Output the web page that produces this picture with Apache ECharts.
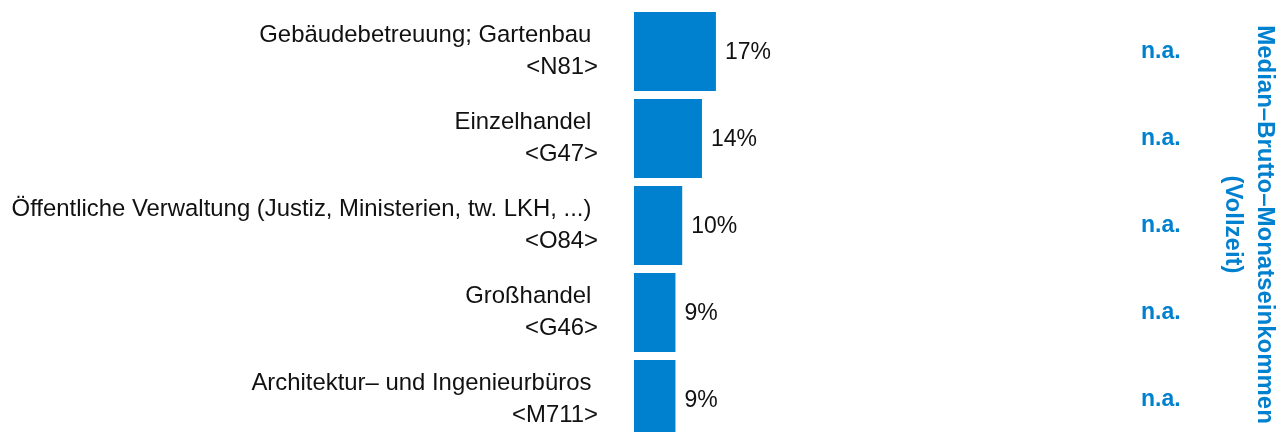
<!DOCTYPE html>
<html>
<head>
<meta charset="utf-8">
<script src="https://cdn.jsdelivr.net/npm/echarts@6/dist/echarts.min.js"></script>
<style>
html,body{margin:0;padding:0;background:#fff;}
#chart{width:1282px;height:432px;}
</style>
</head>
<body>
<div id="chart"></div>
<script>
const categoryNames = [
  'Gebäudebetreuung; Gartenbau ',
  'Einzelhandel ',
  'Öffentliche Verwaltung (Justiz, Ministerien, tw. LKH, ...) ',
  'Großhandel ',
  'Architektur– und Ingenieurbüros '
];
const categoryCodes = ['<N81>', '<G47>', '<O84>', '<G46>', '<M711>'];
const shareValues = [17.0, 14.1, 10.0, 8.6, 8.6];
const medianIncome = ['n.a.', 'n.a.', 'n.a.', 'n.a.', 'n.a.'];
const sideTitle = 'Median–Brutto–Monatseinkommen\n(Vollzeit)';

const BLUE = '#0081d0';
const FONT = "'Liberation Sans', Arial, sans-serif";

const chart = echarts.init(document.getElementById('chart'), null, {renderer: 'canvas'});
chart.setOption({
  animation: false,
  grid: {left: 634, top: 8, width: 482, height: 435, containLabel: false, outerBoundsMode: 'none'},
  xAxis: {
    type: 'value', min: 0, max: 100, show: false
  },
  yAxis: [
    {
      type: 'category',
      data: categoryNames.map((n, i) => n + '\n' + categoryCodes[i]),
      inverse: true,
      axisLine: {show: false},
      axisTick: {show: false},
      splitLine: {show: false},
      axisLabel: {
        margin: 36,
        align: 'right',
        fontFamily: FONT,
        fontSize: 23.9,
        lineHeight: 32.5,
        padding: [6, 0, 0, 0],
        color: '#111'
      }
    },
    {
      type: 'category',
      data: medianIncome,
      inverse: true,
      position: 'right',
      axisLine: {show: false},
      axisTick: {show: false},
      splitLine: {show: false},
      axisLabel: {
        margin: 25,
        align: 'left',
        fontFamily: FONT,
        fontSize: 23,
        fontWeight: 'bold',
        padding: [4, 0, 0, 0],
        color: BLUE
      }
    }
  ],
  series: [{
    type: 'bar',
    data: shareValues,
    yAxisIndex: 0,
    barCategoryGap: '9.2%',
    itemStyle: {color: BLUE},
    label: {
      show: true,
      position: 'right',
      distance: 9,
      offset: [0, 1.5],
      fontFamily: FONT,
      fontSize: 23,
      color: '#111',
      formatter: p => Math.round(p.value) + '%'
    }
  }],
  graphic: [{
    type: 'text',
    x: 1249,
    y: 224.5,
    rotation: -Math.PI / 2,
    style: {
      text: sideTitle,
      fontFamily: FONT,
      fontSize: 24,
      fontWeight: 'bold',
      lineHeight: 32,
      fill: BLUE,
      align: 'center',
      verticalAlign: 'middle'
    }
  }]
});
</script>
</body>
</html>
